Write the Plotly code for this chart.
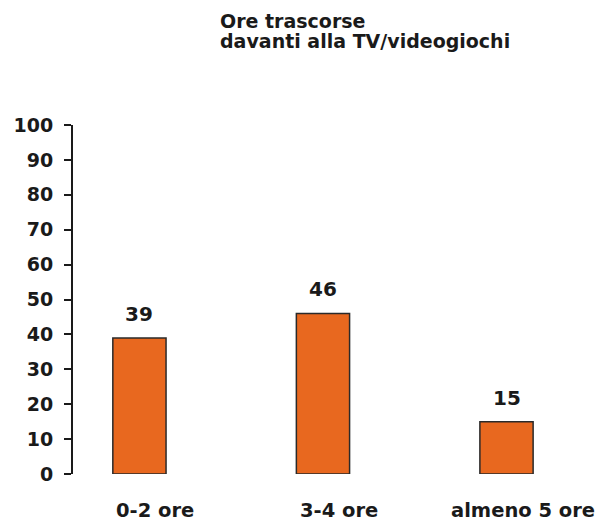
import plotly.graph_objects as go

categories = ["0-2 ore", "3-4 ore", "almeno 5 ore"]
values = [39, 46, 15]
y_ticks = [0, 10, 20, 30, 40, 50, 60, 70, 80, 90, 100]
title_lines = ["Ore trascorse", "davanti alla TV/videogiochi"]

W, H = 599, 522
ML, MR, MT, MB = 73, 20, 125, 48
FONT = "DejaVu Sans"
INK = "#1a1a1a"
PLOT_W = W - ML - MR

fig = go.Figure()
fig.add_trace(go.Bar(
    x=list(range(len(categories))), y=values,
    width=0.29,
    marker=dict(color="#E8681F", line=dict(color="#2a2a2a", width=1.5)),
    hoverinfo="skip",
))

# value labels above bars
for i, v in enumerate(values):
    fig.add_annotation(x=i, y=v, text=f"<b>{v}</b>", showarrow=False,
                       yanchor="bottom", yshift=10,
                       font=dict(family=FONT, size=20, color=INK))

# category labels below the axis
for i, c in enumerate(categories):
    fig.add_annotation(x=i, xref="x", y=0, yref="paper", text=f"<b>{c}</b>",
                       showarrow=False, yanchor="middle", yshift=-36, xshift=16,
                       font=dict(family=FONT, size=19.5, color=INK))

# title, two lines
for k, line in enumerate(title_lines):
    fig.add_annotation(x=(218 - ML) / PLOT_W, xref="paper", xanchor="left",
                       y=1, yref="paper", yanchor="top", yshift=117 - 20 * k,
                       text=f"<b>{line}</b>", showarrow=False,
                       font=dict(family=FONT, size=19, color=INK))

fig.update_layout(
    width=W, height=H,
    margin=dict(l=ML, r=MR, t=MT, b=MB, autoexpand=False),
    paper_bgcolor="white", plot_bgcolor="white",
    showlegend=False,
    xaxis=dict(range=[-0.362, 2.395], showticklabels=False,
               showline=False, showgrid=False, zeroline=False, ticks="",
               automargin=False),
    yaxis=dict(range=[0, 100], tickvals=y_ticks, ticktext=[f"<b>{t}</b>" for t in y_ticks],
               showline=True, linecolor=INK, linewidth=2,
               ticks="outside", ticklen=7, tickwidth=2, tickcolor=INK,
               showgrid=False, zeroline=False, ticklabelstandoff=7,
               automargin=False,
               tickfont=dict(family=FONT, size=19, color=INK)),
)

fig.write_html("out.html", config={"displayModeBar": False},
               post_script="document.body.style.margin='0';")
